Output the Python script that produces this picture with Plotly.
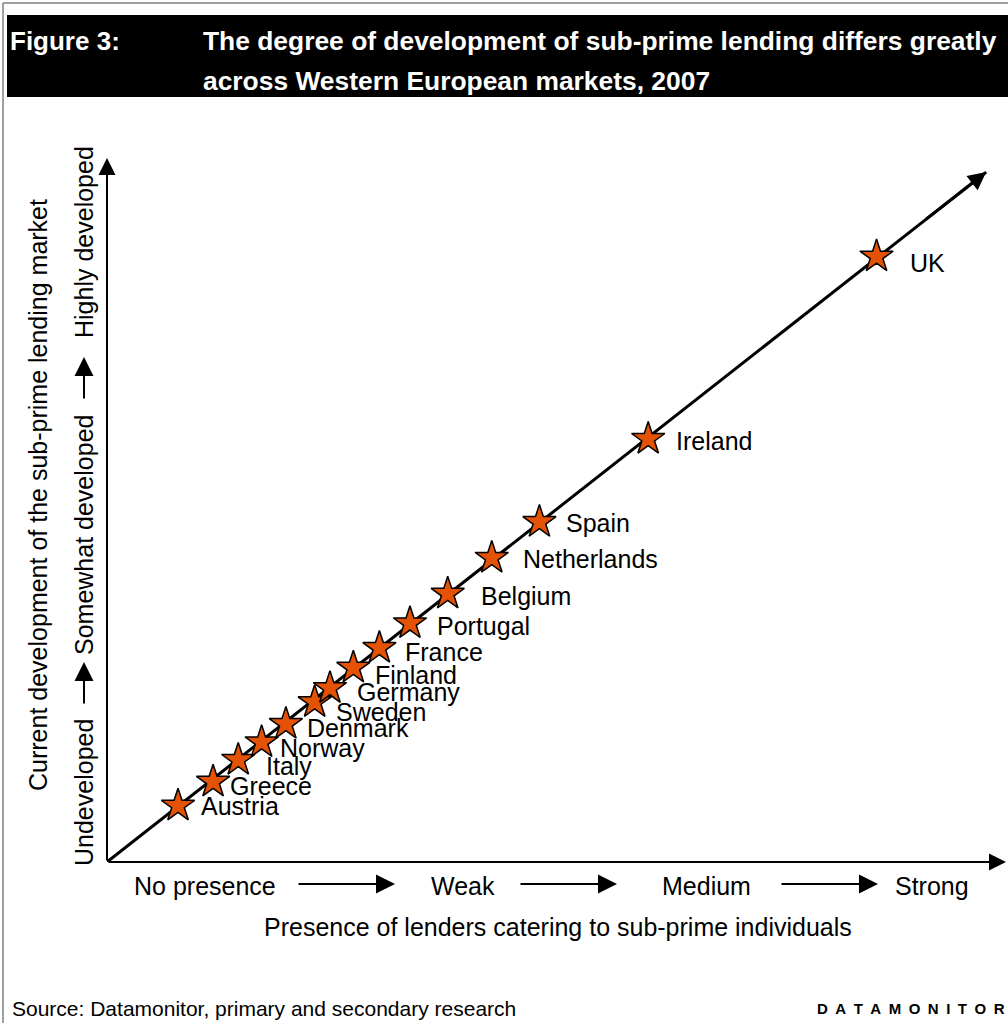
import plotly.graph_objects as go

# ---------------- data ----------------
countries = ["Austria", "Greece", "Italy", "Norway", "Denmark", "Sweden", "Germany",
             "Finland", "France", "Portugal", "Belgium", "Netherlands", "Spain",
             "Ireland", "UK"]
presence = [0.79, 1.18, 1.46, 1.72, 1.99, 2.31, 2.48, 2.74, 3.03, 3.37, 3.79, 4.28, 4.81, 6.02, 8.56]
development = [0.80, 1.14, 1.45, 1.70, 1.96, 2.27, 2.47, 2.76, 3.04, 3.39, 3.81, 4.32, 4.83, 6.01, 8.60]
trend_x = [0.0, 9.78]
trend_y = [0.0, 9.80]
x_levels = ["No presence", "Weak", "Medium", "Strong"]
y_levels = ["Undeveloped", "Somewhat developed", "Highly developed"]

# label offsets (pixels): right shift, down shift
label_dx = [23, 17, 28, 18, 21, 21, 27, 22, 26, 27, 33, 31, 27, 28, 33]
label_dy = [0, 4, 6, 6, 4, 10, 4, 7, 4, 3, 2, 1, 1, 2, 6]

W, H = 1008, 1023
FONT = "Liberation Sans, Arial, sans-serif"
ORANGE = "#E35205"


def px(x):
    return x / W


def py(y):
    return 1 - y / H


def ptext(x, y, text, size=25, color="black", xanchor="center", angle=0):
    return dict(x=px(x), y=py(y), xref="paper", yref="paper", text=text,
                showarrow=False, xanchor=xanchor, yanchor="middle", textangle=angle,
                font=dict(family=FONT, size=size, color=color))


fig = go.Figure()

# diagonal trend line (under the stars)
fig.add_trace(go.Scatter(x=trend_x, y=trend_y, mode="lines",
                         line=dict(color="black", width=3), hoverinfo="skip",
                         showlegend=False))
# stars
fig.add_trace(go.Scatter(x=presence, y=development, mode="markers",
                         marker=dict(symbol="star", size=25, color=ORANGE,
                                     line=dict(color="black", width=1.5)),
                         text=countries, showlegend=False))

ann = []
# country labels
for c, xv, yv, dx, dy in zip(countries, presence, development, label_dx, label_dy):
    ann.append(dict(x=xv, y=yv, xref="x", yref="y", text=c, showarrow=False,
                    xanchor="left", yanchor="middle", xshift=dx - 2, yshift=-dy,
                    font=dict(family=FONT, size=25, color="black")))

# axis arrows
arrow_common = dict(xref="x", yref="y", axref="x", ayref="y", text="", showarrow=True,
                    arrowhead=2, arrowcolor="black")
ann.append(dict(x=10, y=0, ax=0, ay=0, arrowwidth=2, arrowsize=1.7, **arrow_common))
ann.append(dict(x=0, y=10, ax=0, ay=0, arrowwidth=2, arrowsize=1.7, **arrow_common))
# diagonal arrow tip
ann.append(dict(x=trend_x[1], y=trend_y[1], ax=trend_x[1] * 0.93, ay=trend_y[1] * 0.93,
                arrowwidth=3, arrowsize=1.2, **arrow_common))

# x level labels and small arrows
x_label_px = [205, 463, 706, 932]
for t, xp in zip(x_levels, x_label_px):
    ann.append(ptext(xp, 886, t))
for x0, x1 in [(297, 395), (519, 617), (780, 878)]:
    ann.append(dict(x=px(x1), y=py(884), ax=-(x1 - x0), ay=0, xref="paper", yref="paper",
                    text="", showarrow=True, arrowhead=2,
                    arrowwidth=2, arrowsize=1.9, arrowcolor="black"))
ann.append(ptext(558, 927, "Presence of lenders catering to sub-prime individuals"))

# y level labels (rotated)
y_label_py = [793, 535, 242]
for t, yp in zip(y_levels, y_label_py):
    ann.append(ptext(84, yp, t, angle=-90))
for y0, y1 in [(705, 662), (400, 357)]:
    ann.append(dict(x=px(84), y=py(y1), ax=0, ay=(y0 - y1), xref="paper", yref="paper",
                    text="", showarrow=True, arrowhead=2,
                    arrowwidth=2, arrowsize=1.9, arrowcolor="black"))
ann.append(ptext(38, 495, "Current development of the sub-prime lending market", angle=-90))

# header
ann.append(ptext(8, 41, "<b>Figure 3:</b>", size=26, color="white", xanchor="left"))
ann.append(ptext(201, 41, "<b>The degree of development of sub-prime lending differs greatly</b>",
                 size=26.4, color="white", xanchor="left"))
ann.append(ptext(201, 81, "<b>across Western European markets, 2007</b>",
                 size=26.4, color="white", xanchor="left"))

# footer
ann.append(ptext(10, 1008, "Source: Datamonitor, primary and secondary research",
                 size=21, xanchor="left"))
ann.append(ptext(1007, 1008, "<b>" + "\u2002".join("DATAMONITOR") + "</b>",
                 size=15, xanchor="right"))

shapes = [
    dict(type="rect", xref="paper", yref="paper", x0=px(7), x1=1.0, y0=py(97), y1=py(15),
         fillcolor="black", line=dict(width=0), layer="below"),
    dict(type="line", xref="paper", yref="paper", x0=px(3), x1=1.0, y0=py(3), y1=py(3),
         line=dict(color="#808080", width=1.5)),
    dict(type="line", xref="paper", yref="paper", x0=px(3), x1=px(3), y0=py(3), y1=0,
         line=dict(color="#808080", width=1.5)),
]

fig.update_layout(
    width=W, height=H, margin=dict(l=0, r=0, t=0, b=0),
    paper_bgcolor="white", plot_bgcolor="white",
    xaxis=dict(domain=[107 / W, 1006 / W], range=[0, 10], visible=False, fixedrange=True),
    yaxis=dict(domain=[1 - 862 / H, 1 - 158 / H], range=[0, 10], visible=False, fixedrange=True),
    annotations=ann, shapes=shapes, showlegend=False,
)

fig.write_html("out.html")
